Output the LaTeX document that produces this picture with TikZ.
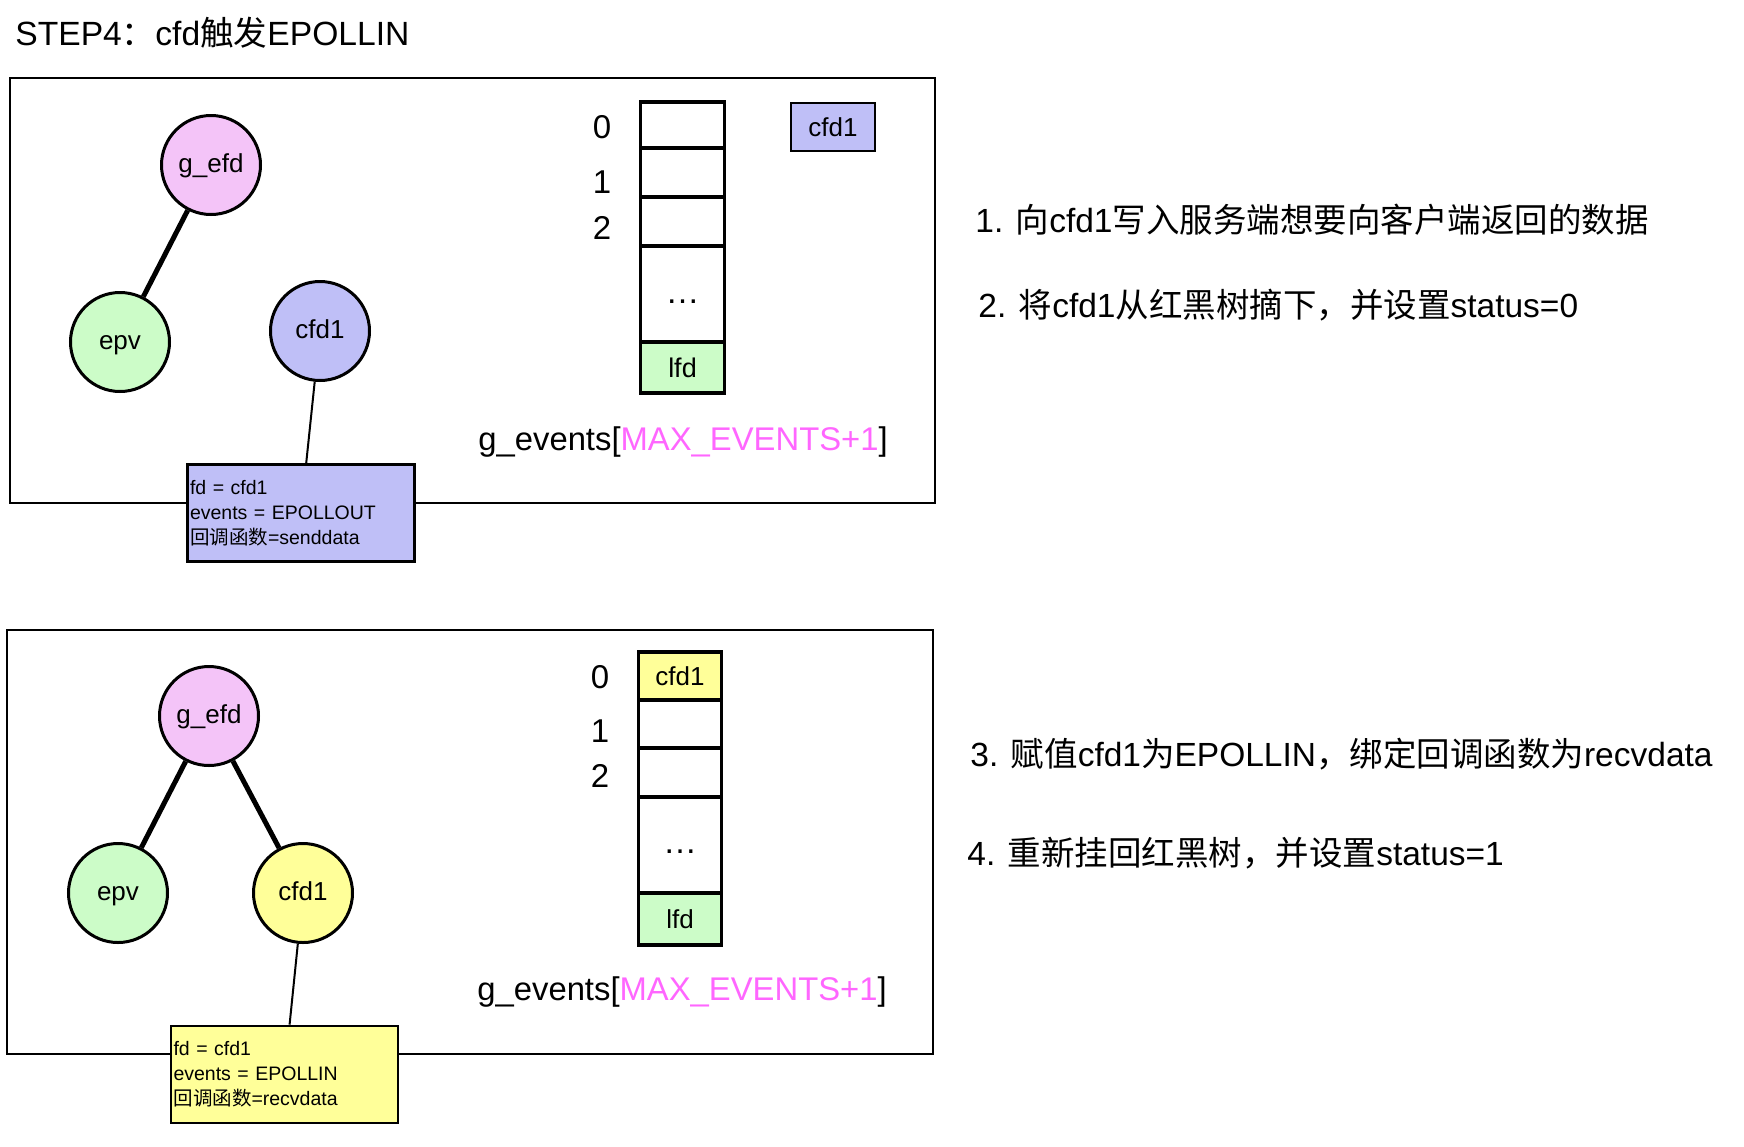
\documentclass[tikz,border=0pt]{standalone}
\usepackage{fontspec}
\setmainfont{Liberation Sans}
\newfontfamily\zhfont{Noto Sans CJK SC}
\newcommand{\zh}[1]{{\zhfont #1}}
\definecolor{pinkc}{RGB}{244,196,248}
\definecolor{greenc}{RGB}{204,252,200}
\definecolor{lavc}{RGB}{191,191,247}
\definecolor{yelc}{RGB}{255,255,153}
\definecolor{magc}{RGB}{255,102,255}
\begin{document}
\begin{tikzpicture}[x=0.5pt,y=-0.5pt,
  panel/.style={draw, line width=1.2pt},
  tnode/.style={circle, draw, line width=1.5pt, minimum size=49.5pt, inner sep=0pt, text height=0.95em, text depth=0.25em, font=\fontsize{13pt}{15pt}\selectfont},
  treeedge/.style={line width=2.5pt},
  thinedge/.style={line width=1pt},
  infobox/.style={draw, line width=1.35pt, minimum height=48.5pt, inner xsep=1.2pt, inner ysep=0pt, align=left, text width=111pt, font=\fontsize{9.75pt}{12.5pt}\selectfont},
  cell/.style={draw, line width=1.6pt, minimum width=41.75pt, inner sep=0pt, font=\fontsize{13pt}{15pt}\selectfont},
  idx/.style={font=\fontsize{16.5pt}{18pt}\selectfont, inner sep=0pt},
  big/.style={font=\fontsize{16.4pt}{19pt}\selectfont, inner sep=0pt, anchor=base west},
  note/.style={font=\fontsize{16.75pt}{19pt}\selectfont, inner sep=0pt, anchor=base west},
  dotsn/.style={font=\fontsize{17pt}{19pt}\selectfont, inner sep=0pt}
]
\useasboundingbox (0,0) rectangle (1744,1146);

% title
\node[font=\fontsize{16.8pt}{19pt}\selectfont, inner sep=0pt, anchor=base west] (title) at (15,45) {STEP4\zh{：}cfd\zh{触发}EPOLLIN};

% ===== top panel =====
\draw[panel] (10,78) rectangle (935,503);
\node[tnode, fill=pinkc] (gefdA) at (211,165) {g\_efd};
\node[tnode, fill=greenc] (epvA) at (120,342) {epv};
\node[tnode, fill=lavc] (cfdA) at (320,331) {cfd1};
\draw[treeedge] (gefdA) -- (epvA);
\node[infobox, fill=lavc] (infoA) at (301,513) {fd = cfd1\\events = EPOLLOUT\\\zh{回调函数}=senddata};
\draw[thinedge] (cfdA) -- (infoA);

\node[cell, minimum height=23pt] (a0) at (682.5,125) {};
\node[cell, minimum height=24.5pt] (a1) at (682.5,172.5) {};
\node[cell, minimum height=24.5pt] (a2) at (682.5,221.5) {};
\node[cell, minimum height=48pt] (ad) at (682.5,294) {};
\node[cell, minimum height=25.5pt, fill=greenc, font=\fontsize{13.5pt}{15pt}\selectfont] (al) at (682.5,367.5) {lfd};
\node[dotsn] (adots) at (682.5,302) {…};
\node[idx] (ai0) at (602,127) {0};
\node[idx] (ai1) at (602,182) {1};
\node[idx] (ai2) at (602,228) {2};
\node[cell, minimum width=42pt, minimum height=24pt, line width=1.35pt, fill=lavc] (cfdbox) at (833,127) {cfd1};
\node[big] (gevA) at (478,450) {g\_events[\textcolor{magc}{MAX\_EVENTS+1}]};

\node[note] (t1) at (975,232) {1. \zh{向}cfd1\zh{写入服务端想要向客户端返回的数据}};
\node[note] (t2) at (978,317) {2. \zh{将}cfd1\zh{从红黑树摘下，并设置}status=0};

% ===== bottom panel =====
\draw[panel] (7,630) rectangle (933,1054);
\node[tnode, fill=pinkc] (gefdB) at (209,716) {g\_efd};
\node[tnode, fill=greenc] (epvB) at (118,893) {epv};
\node[tnode, fill=yelc] (cfdB) at (303,893) {cfd1};
\draw[treeedge] (gefdB) -- (epvB);
\draw[treeedge] (gefdB) -- (cfdB);
\node[infobox, fill=yelc] (infoB) at (284.5,1074.5) {fd = cfd1\\events = EPOLLIN\\\zh{回调函数}=recvdata};
\draw[thinedge] (cfdB) -- (infoB);

\node[cell, minimum height=24pt, fill=yelc] (b0) at (680,676) {cfd1};
\node[cell, minimum height=24pt] (b1) at (680,724) {};
\node[cell, minimum height=24.5pt] (b2) at (680,772.5) {};
\node[cell, minimum height=48pt] (bd) at (680,845) {};
\node[cell, minimum height=26pt, fill=greenc] (bl) at (680,919) {lfd};
\node[dotsn] (bdots) at (680,852) {…};
\node[idx] (bi0) at (600,677) {0};
\node[idx] (bi1) at (600,731) {1};
\node[idx] (bi2) at (600,776) {2};
\node[big] (gevB) at (477,1000) {g\_events[\textcolor{magc}{MAX\_EVENTS+1}]};

\node[note] (t3) at (970,766) {3. \zh{赋值}cfd1\zh{为}EPOLLIN\zh{，绑定回调函数为}recvdata};
\node[note] (t4) at (967,865) {4. \zh{重新挂回红黑树，并设置}status=1};
\end{tikzpicture}
\end{document}
